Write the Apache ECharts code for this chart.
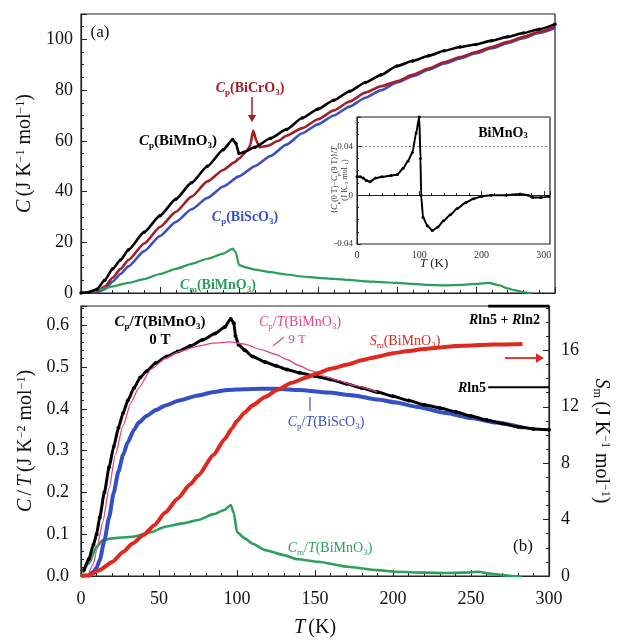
<!DOCTYPE html>
<html><head><meta charset="utf-8">
<script src="https://cdn.jsdelivr.net/npm/echarts@6/dist/echarts.min.js"></script>
<style>html,body{margin:0;padding:0;background:#fff}#c{width:619px;height:641px}</style>
</head><body><div id="c"></div>
<script>
// ---------- DATA ----------
// Panel (a): heat capacity C (J K^-1 mol^-1) vs T (K)
const a_CpBiMnO3 = [[0,0],[5,0.3],[10,1.5],[15,5],[20,9.5],[25,13],[30,17],[40,24],[50,30.5],[60,37],[70,43.5],[80,50],[90,56.5],[96,60.5],[98,59],[100,55],[103,55.5],[110,57.5],[120,61],[130,64.5],[140,69],[150,72.5],[160,76],[170,79.5],[180,83],[190,86],[200,89.5],[210,91.5],[220,93.5],[230,95.5],[240,97],[250,98],[260,99.5],[270,101],[280,102.5],[290,104],[300,106]];
const a_CpBiCrO3 = [[0,0],[10,0.5],[15,2.5],[20,6],[25,9.5],[30,13],[40,19.5],[50,26],[60,32],[70,38],[80,44],[90,48.5],[97,51.5],[100,53],[105,56],[107,58],[109,64],[111,60],[113,57.5],[118,58],[125,60],[130,62],[140,65],[150,68.5],[160,72],[170,75.5],[180,79],[190,81.5],[200,83.5],[210,86],[220,88.5],[230,91],[240,93],[250,95],[260,97],[270,99],[280,101],[290,103],[300,105]];
const a_CpBiScO3 = [[0,0],[10,0.3],[15,1.5],[20,4.5],[25,7.5],[30,10.5],[40,16.5],[50,22.5],[60,28],[70,33],[80,37.5],[90,42],[100,46],[110,50],[120,54],[130,58.5],[140,63],[150,66.5],[160,70],[170,73.5],[180,77],[190,80],[200,83],[210,85.5],[220,88],[230,90.5],[240,92.5],[250,94.5],[260,96.5],[270,98.5],[280,100.5],[290,102.5],[300,104.5]];
const a_CmBiMnO3 = [[0,0],[5,0.3],[10,1],[15,1.8],[20,2.6],[30,4],[40,5.5],[50,7.5],[60,9.5],[70,11.5],[80,13.5],[90,15.5],[96,17.5],[98,16],[100,11],[105,10],[110,9.2],[120,8.2],[130,7.3],[140,6.5],[150,6],[160,5.6],[170,5.2],[180,4.6],[190,4.3],[200,4],[210,3.6],[220,3.2],[230,3],[240,3.2],[250,3.6],[258,4],[265,3],[270,1.8],[275,1],[280,0.3],[285,0]];
// Inset: {Cp(0T)-Cp(9T)}/T
const inset_dCpT = [[0,0.015],[5,0.015],[10,0.014],[15,0.012],[21,0.011],[30,0.014],[40,0.015],[55,0.016],[65,0.017],[74,0.022],[82,0.028],[89,0.035],[95,0.051],[100,0.064],[102,0.03],[103,0],[106,-0.018],[113,-0.025],[121,-0.029],[130,-0.026],[139,-0.021],[150,-0.016],[161,-0.011],[175,-0.006],[187,-0.003],[200,-0.001],[215,0],[240,0],[262,0.001],[275,0],[282,-0.002],[295,-0.002],[308,-0.001]];
// Panel (b): C/T (J K^-2 mol^-1) and Sm (J K^-1 mol^-1)
const b_CpT_0T = [[2,0.015],[5,0.04],[8,0.075],[10,0.1],[12,0.14],[15,0.2],[18,0.26],[21,0.31],[24,0.355],[27,0.39],[30,0.42],[34,0.45],[38,0.475],[42,0.49],[48,0.51],[55,0.525],[62,0.537],[70,0.55],[78,0.565],[86,0.58],[92,0.595],[96,0.615],[98,0.605],[99,0.575],[101,0.553],[105,0.54],[110,0.525],[118,0.512],[125,0.503],[132,0.494],[140,0.486],[150,0.478],[160,0.47],[170,0.46],[180,0.45],[190,0.44],[200,0.43],[210,0.42],[220,0.41],[230,0.402],[240,0.393],[250,0.383],[260,0.373],[270,0.365],[280,0.357],[290,0.352],[300,0.35]];
const b_CpT_9T = [[5,0.005],[8,0.03],[10,0.062],[14,0.13],[18,0.21],[22,0.29],[27,0.36],[32,0.415],[37,0.45],[45,0.495],[54,0.52],[63,0.537],[75,0.55],[85,0.557],[95,0.56],[105,0.555],[115,0.542],[125,0.53],[132,0.518],[140,0.503],[147,0.492],[156,0.478],[165,0.468],[175,0.456],[190,0.44]];
const b_CpT_BiScO3 = [[5,0],[8,0.01],[10,0.02],[12,0.038],[15,0.085],[18,0.14],[21,0.2],[24,0.25],[27,0.29],[30,0.32],[34,0.35],[37,0.367],[42,0.383],[48,0.397],[54,0.408],[63,0.42],[75,0.432],[85,0.44],[94,0.445],[105,0.447],[115,0.448],[126,0.448],[140,0.445],[158,0.439],[175,0.432],[190,0.422],[202,0.415],[215,0.405],[234,0.39],[250,0.378],[266,0.367],[283,0.355]];
const b_Sm = [[0,0],[5,0.05],[12,0.43],[20,1.0],[27,1.7],[33,2.3],[40,2.9],[47,3.6],[54,4.5],[62,5.5],[70,6.5],[75,7.1],[85,8.6],[92,9.7],[97,10.5],[100,11.0],[105,11.6],[110,12.1],[118,12.7],[126,13.2],[135,13.7],[145,14.1],[152,14.4],[160,14.7],[171,15.0],[180,15.3],[190,15.55],[200,15.8],[210,15.95],[220,16.1],[230,16.2],[240,16.3],[250,16.35],[260,16.4],[270,16.42],[283,16.45]];
const b_CmT = [[1,0.007],[5,0.03],[10,0.07],[14,0.086],[20,0.09],[33,0.094],[45,0.105],[54,0.118],[65,0.126],[75,0.134],[85,0.148],[92,0.158],[96,0.17],[98,0.15],[100,0.105],[105,0.09],[110,0.077],[118,0.062],[130,0.05],[139,0.04],[152,0.034],[171,0.022],[190,0.014],[202,0.01],[220,0.008],[234,0.007],[245,0.008],[255,0.01],[262,0.006],[270,0.002],[283,-0.004]];
const R = 8.314;
const RLN5 = R*Math.log(5);          // 13.38
const RLN10 = R*Math.log(5)+R*Math.log(2); // 19.14
const rlnStartT = 261;
const xTicks = [0,50,100,150,200,250,300];

// ---------- CHART ----------
const F = '"Liberation Serif","Times New Roman",serif';
const chart = echarts.init(document.getElementById('c'), null, {renderer:'canvas'});
const axLine = {show:true, lineStyle:{color:'#222', width:1.2}};
const baseLbl = {color:'#111', fontFamily:F, fontSize:18};
const SM = 0.2;

function fnt(sz, st, wt){ return (st||'normal')+' '+(wt||'normal')+' '+sz+'px '+F; }
function richSet(sz, wt, col){
  return {
    n:{font:fnt(sz,'normal',wt), fill:col, lineHeight:sz+4},
    i:{font:fnt(sz,'italic',wt), fill:col, lineHeight:sz+4},
    s:{font:fnt(Math.round(sz*0.62),'normal',wt), fill:col, verticalAlign:'bottom', lineHeight:Math.round(sz*0.62)},
    si:{font:fnt(Math.round(sz*0.62),'italic',wt), fill:col, verticalAlign:'bottom', lineHeight:Math.round(sz*0.62)}
  };
}
function txt(x,y,text,sz,wt,col,align,rot){
  return {type:'text', x:x, y:y, rotation: rot||0, z:100,
    style:{text:text, font:fnt(sz,'normal',wt), fill:col, align:align||'center', verticalAlign:'middle', rich:richSet(sz,wt,col)}};
}
function line(x1,y1,x2,y2,col,w){
  return {type:'line', z:100, shape:{x1,y1,x2,y2}, style:{stroke:col, lineWidth:w||1.5}};
}
function arrowHead(x,y,dir,col,sz){
  const s = sz||6;
  const pts = dir==='down' ? [[x-s*0.6,y-s],[x+s*0.6,y-s],[x,y]] : [[x-s,y-s*0.6],[x-s,y+s*0.6],[x,y]];
  return {type:'polygon', z:100, shape:{points:pts}, style:{fill:col}};
}

const richAxis = {
  n:{fontFamily:F, fontSize:20, color:'#111'},
  i:{fontFamily:F, fontSize:20, fontStyle:'italic', color:'#111'},
  sup:{fontFamily:F, fontSize:12, color:'#111', verticalAlign:'top', lineHeight:12},
  sub:{fontFamily:F, fontSize:12, color:'#111', verticalAlign:'bottom', lineHeight:12}
};
function ser(x,y,data,col,w,z,sym){
  const s = {type:'line', xAxisIndex:x, yAxisIndex:y, data:data, smooth:SM, smoothMonotone:'x',
    lineStyle:{color:col, width:w}, itemStyle:{color:col}, z:z};
  if (sym) { s.symbol='circle'; s.symbolSize=sym; } else { s.showSymbol=false; }
  return s;
}

const option = {
  backgroundColor:'#fff',
  animation:false,
  grid:[
    {left:81, top:14, width:474, height:279, show:true, borderColor:'#222', borderWidth:1.2},
    {left:81, top:306, width:474, height:270, show:true, borderColor:'#222', borderWidth:1.2},
    {left:357, top:117, width:193, height:127, show:true, borderColor:'#222', borderWidth:1.2, backgroundColor:'#fff'}
  ],
  xAxis:[
    {gridIndex:0, type:'value', min:0, max:300, interval:50, axisLine:axLine,
     axisTick:{inside:true, length:6, lineStyle:{color:'#222'}}, minorTick:{show:true, splitNumber:5, length:3, lineStyle:{color:'#222'}},
     axisLabel:{show:false}, splitLine:{show:false}},
    {gridIndex:1, type:'value', min:0, max:300, interval:50, axisLine:axLine,
     axisTick:{inside:true, length:6, lineStyle:{color:'#222'}}, minorTick:{show:true, splitNumber:5, length:3, lineStyle:{color:'#222'}},
     axisLabel:Object.assign({margin:14, formatter:v=>xTicks.includes(v)?String(v):''}, baseLbl), splitLine:{show:false},
     name:'{i|T} {n|(K)}', nameLocation:'middle', nameGap:42, nameTextStyle:{rich:richAxis}},
    {gridIndex:2, type:'value', min:0, max:310, interval:100, axisLine:{show:true, lineStyle:{color:'#222', width:1}},
     axisTick:{inside:true, length:4, lineStyle:{color:'#222'}}, minorTick:{show:true, splitNumber:5, length:2, lineStyle:{color:'#222'}},
     axisLabel:{color:'#333', fontFamily:F, fontSize:10, margin:6, showMaxLabel:false}, splitLine:{show:false}}
  ],
  yAxis:[
    {gridIndex:0, type:'value', min:0, max:110, interval:20, axisLine:axLine,
     axisTick:{inside:true, length:6, lineStyle:{color:'#222'}}, minorTick:{show:true, splitNumber:4, length:3, lineStyle:{color:'#222'}},
     axisLabel:Object.assign({margin:8, showMaxLabel:false}, baseLbl), splitLine:{show:false},
     name:'{i|C} {n|(J K}{sup|−1}{n| mol}{sup|−1}{n|)}', nameLocation:'middle', nameGap:46, nameTextStyle:{rich:richAxis}},
    {gridIndex:1, type:'value', min:0, max:0.646, interval:0.1, axisLine:axLine,
     axisTick:{inside:true, length:6, lineStyle:{color:'#222'}}, minorTick:{show:true, splitNumber:5, length:3, lineStyle:{color:'#222'}},
     axisLabel:Object.assign({margin:12, showMaxLabel:false, formatter:v=>v.toFixed(1)}, baseLbl), splitLine:{show:false},
     name:'{i|C} {n|/} {i|T} {n|(J K}{sup|−2}{n| mol}{sup|−1}{n|)}', nameLocation:'middle', nameGap:40, nameTextStyle:{rich:richAxis}},
    {gridIndex:1, type:'value', position:'right', min:0, max:RLN10, interval:4, axisLine:axLine,
     axisTick:{inside:true, length:6, lineStyle:{color:'#222'}}, minorTick:{show:true, splitNumber:4, length:3, lineStyle:{color:'#222'}},
     axisLabel:Object.assign({margin:12, showMaxLabel:false}, baseLbl), splitLine:{show:false},
     name:'{i|S}{sub|m} {n|(J K}{sup|−1}{n| mol}{sup|−1}{n|)}', nameLocation:'middle', nameGap:42, nameRotate:-90, nameTextStyle:{rich:richAxis}},
    {gridIndex:2, type:'value', min:-0.04, max:0.064, interval:0.04, axisLine:{show:true, lineStyle:{color:'#222', width:1}},
     axisTick:{inside:true, length:4, lineStyle:{color:'#222'}}, minorTick:{show:true, splitNumber:4, length:2, lineStyle:{color:'#222'}},
     axisLabel:{color:'#333', fontFamily:F, fontSize:9, margin:4, showMaxLabel:false, formatter:v=>Math.abs(v)<1e-9?'0':v.toFixed(2)},
     splitLine:{show:true, lineStyle:{color:'#888', type:[2,2], width:1}}}
  ],
  series:[
    ser(0,0,a_CpBiScO3,'#3b4fc0',2.6,2),
    ser(0,0,a_CpBiCrO3,'#a21f26',2.6,3),
    ser(0,0,a_CpBiMnO3,'#000',2.6,4,3.5),
    ser(0,0,a_CmBiMnO3,'#28a05a',2.2,3),
    ser(2,3,inset_dCpT,'#000',2,5,3),
    ser(1,1,b_CmT,'#2aa05a',2.6,2),
    ser(1,1,b_CpT_BiScO3,'#3550c4',4,2,3.5),
    ser(1,1,b_CpT_0T,'#000',3,3,4),
    ser(1,1,b_CpT_9T,'#e2458c',1.3,4),
    ser(1,2,b_Sm,'#e0281f',4,5),
    {type:'line', xAxisIndex:1, yAxisIndex:2, data:[[rlnStartT,RLN5],[300,RLN5]], showSymbol:false, lineStyle:{color:'#000', width:2}, z:6},
    {type:'line', xAxisIndex:1, yAxisIndex:2, data:[[rlnStartT,RLN10],[300,RLN10]], showSymbol:false, lineStyle:{color:'#000', width:3}, z:6}
  ],
  graphic:[
    txt(100,33,'(a)',17,'normal','#111'),
    txt(250,88,'{i|C}{s|p}(BiCrO{s|3})',14,'bold','#a21f26'),
    line(252,97,252,115,'#a21f26',1.5), arrowHead(252,122,'down','#a21f26',7),
    txt(178,141,'{i|C}{s|p}(BiMnO{s|3})',15,'bold','#000'),
    txt(245,217,'{i|C}{s|p}(BiScO{s|3})',14,'bold','#3b4fc0'),
    txt(218,285,'{i|C}{s|m}(BiMnO{s|3})',14,'bold','#28a05a'),
    txt(503,133,'BiMnO{s|3}',14,'bold','#000'),
    txt(335,180,'{{i|C}{s|p}(0 T)−{i|C}{s|p}(9 T)}/{i|T}',8,'normal','#333','center',Math.PI/2),
    txt(345,180,'(J K{s|−2} mol{s|−1})',8,'normal','#333','center',Math.PI/2),
    txt(434,264,'{i|T} (K)',13,'normal','#222'),
    txt(160,322,'{i|C}{s|p}/{i|T}(BiMnO{s|3})',15,'bold','#000'),
    txt(160,340,'0 T',15,'bold','#000'),
    txt(300,322,'{i|C}{s|p}/{i|T}(BiMnO{s|3})',14,'normal','#e2458c'),
    txt(297,340,'9 T',13,'normal','#e2458c'),
    line(273,346,284,337,'#e2458c',1.2),
    txt(405,341,'{i|S}{s|m}(BiMnO{s|3})',14,'normal','#e0281f'),
    line(505,358,537,358,'#e0281f',1.8), arrowHead(544,358,'right','#e0281f',8),
    txt(540,320,'{i|R}ln5 + {i|R}ln2',14,'bold','#000','right'),
    txt(486,388,'{i|R}ln5',14,'bold','#000','right'),
    txt(326,422,'{i|C}{s|p}/{i|T}(BiScO{s|3})',14,'normal','#3b4fc0'),
    line(310,397,310,411,'#3b4fc0',1.2),
    txt(330,548,'{i|C}{s|m}/{i|T}(BiMnO{s|3})',14,'normal','#28a05a'),
    txt(523,547,'(b)',17,'normal','#111')
  ]
};
chart.setOption(option);
</script></body></html>
